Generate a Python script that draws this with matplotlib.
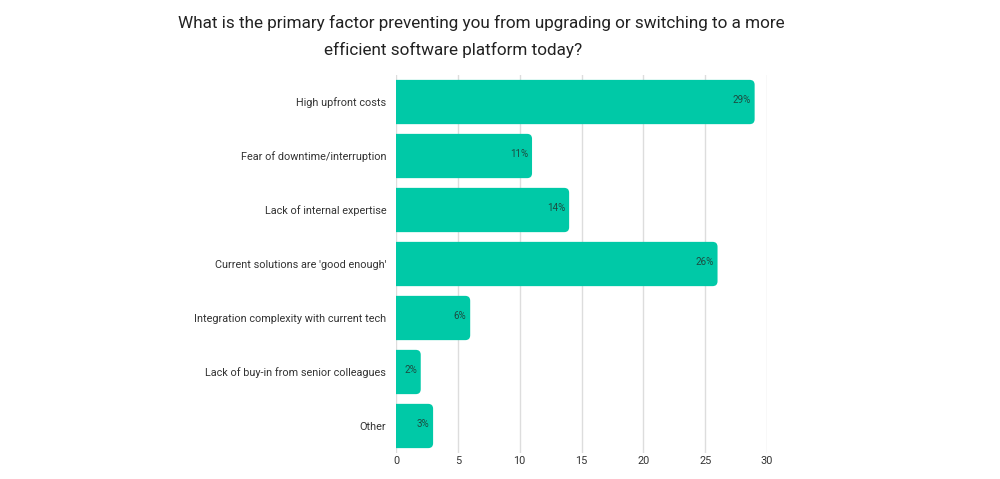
import matplotlib
matplotlib.use('Agg')
import matplotlib.pyplot as plt
from matplotlib.patches import FancyBboxPatch

plt.rcParams['font.family'] = ['Roboto', 'DejaVu Sans']

categories = ['High upfront costs', 'Fear of downtime/interruption',
              'Lack of internal expertise', "Current solutions are 'good enough'",
              'Integration complexity with current tech',
              'Lack of buy-in from senior colleagues', 'Other']
values = [29, 11, 14, 26, 6, 2, 3]
xticks = [0, 5, 10, 15, 20, 25, 30]
title1 = 'What is the primary factor preventing you from upgrading or switching to a more'
title2 = 'efficient software platform today?'

bar_color = '#00C9A7'
text_color = '#333333'

fig = plt.figure(figsize=(10, 4.79), dpi=100)
ax = fig.add_axes([0.396, 0.0543, 0.371, 0.7891])

n = len(categories)
ax.set_xlim(0, 30)
ax.set_ylim(n - 0.5, -0.5)

h = 0.82
for i, v in enumerate(values):
    p = FancyBboxPatch((-1, i - h / 2), v + 1, h,
                       boxstyle='round,pad=0,rounding_size=0.4',
                       mutation_aspect=0.2286,
                       facecolor=bar_color, edgecolor='none', zorder=3)
    ax.add_patch(p)
    ax.text(v - 0.3, i - 0.04, f'{v}%', ha='right', va='center',
            fontsize=7, color='#1d4a40', zorder=4)

ax.set_xticks(xticks)
ax.set_yticks(range(n))
ax.set_yticklabels(categories)
ax.tick_params(axis='both', length=0, colors=text_color)
ax.tick_params(axis='y', pad=7, labelsize=7.8)
ax.tick_params(axis='x', pad=2, labelsize=7.8)
for s in ax.spines.values():
    s.set_visible(False)
ax.grid(axis='x', color='#dddddd', linewidth=1, zorder=0)
ax.set_axisbelow(True)

fig.text(0.481, 1 - 23 / 479, title1, ha='center', va='center',
         fontsize=12.3, color='#222222')
fig.text(0.453, 1 - 50 / 479, title2, ha='center', va='center',
         fontsize=12.3, color='#222222')

fig.savefig('out.png', dpi=100, facecolor='white')
